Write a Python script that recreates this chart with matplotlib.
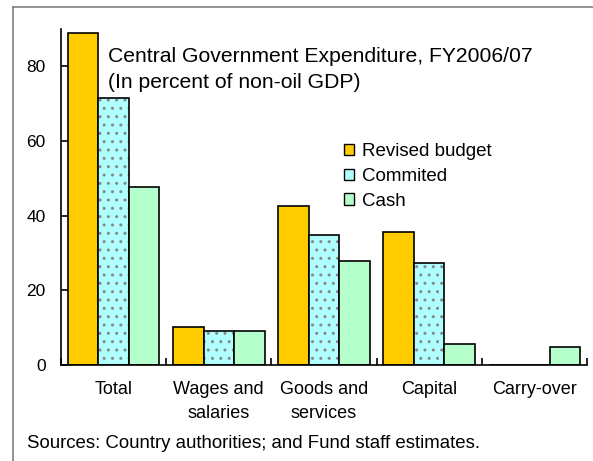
import matplotlib.pyplot as plt
import numpy as np
from matplotlib.lines import Line2D
from matplotlib.patches import Patch

plt.rcParams['font.family'] = ['Liberation Sans', 'DejaVu Sans']

categories = ["Total", "Wages and\nsalaries", "Goods and\nservices", "Capital", "Carry-over"]
revised_budget = [88.9, 10.3, 42.5, 35.7, 0.0]
commited = [71.4, 9.0, 34.7, 27.4, 0.0]
cash = [47.7, 9.0, 27.8, 5.7, 4.9]

yellow = "#FFCC00"
cyan = "#B0FFFF"
green = "#B4FFCC"

W, H = 593, 461


def fx(px):
    return px / W


def fy(py):
    return 1 - py / H


fig = plt.figure(figsize=(W / 100, H / 100), dpi=100)
ax = fig.add_axes([fx(61), fy(365), fx(587) - fx(61), fy(29) - fy(365)])

x = np.arange(len(categories))
w = 0.29
ax.bar(x - w, revised_budget, w, color=yellow, edgecolor="black", linewidth=1.2)
# dotted fill for committed: hatch drawn in grey, then black outline on top
ax.bar(x, commited, w, color=cyan, edgecolor="#888888", hatch="..", linewidth=0)
ax.bar(x, commited, w, color="none", edgecolor="black", linewidth=1.2)
ax.bar(x + w, cash, w, color=green, edgecolor="black", linewidth=1.2)

ax.set_xlim(-0.5, len(categories) - 0.5)
ax.set_ylim(0, 90)
ax.set_yticks([0, 20, 40, 60, 80])
ax.set_xticks(np.arange(len(categories) + 1) - 0.5)
ax.set_xticklabels([])
ax.tick_params(axis="both", direction="in", length=5, width=1.2, labelsize=12.5)
ax.tick_params(axis="y", pad=11)
for s in ["top", "right"]:
    ax.spines[s].set_visible(False)
for s in ["left", "bottom"]:
    ax.spines[s].set_linewidth(1.2)

for i, c in enumerate(categories):
    cx = 61 + (i + 0.5) * (587 - 61) / len(categories)
    fig.text(fx(cx), fy(381), c, ha="center", va="top", fontsize=13, linespacing=1.5)

fig.text(fx(108), fy(56), "Central Government Expenditure, FY2006/07",
         ha="left", va="center", fontsize=15.2)
fig.text(fx(108), fy(82), "(In percent of non-oil GDP)",
         ha="left", va="center", fontsize=15.2)

handles = [Patch(facecolor=yellow, edgecolor="black"),
           Patch(facecolor=cyan, edgecolor="black"),
           Patch(facecolor=green, edgecolor="black")]
fig.legend(handles, ["Revised budget", "Commited", "Cash"], loc="upper left",
           bbox_to_anchor=(fx(344), fy(143)), frameon=False, fontsize=13.5,
           handlelength=0.55, handleheight=0.55, handletextpad=0.4, labelspacing=0.42,
           borderpad=0, borderaxespad=0)

fig.text(fx(27), fy(443), "Sources: Country authorities; and Fund staff estimates.",
         ha="left", va="center", fontsize=13.4)

# grey frame on top and left
fig.add_artist(Line2D([fx(13), 1], [fy(7), fy(7)], color="#808080", lw=1.2))
fig.add_artist(Line2D([fx(13), fx(13)], [0, fy(7)], color="#808080", lw=1.2))

plt.savefig("out.png", dpi=100)
